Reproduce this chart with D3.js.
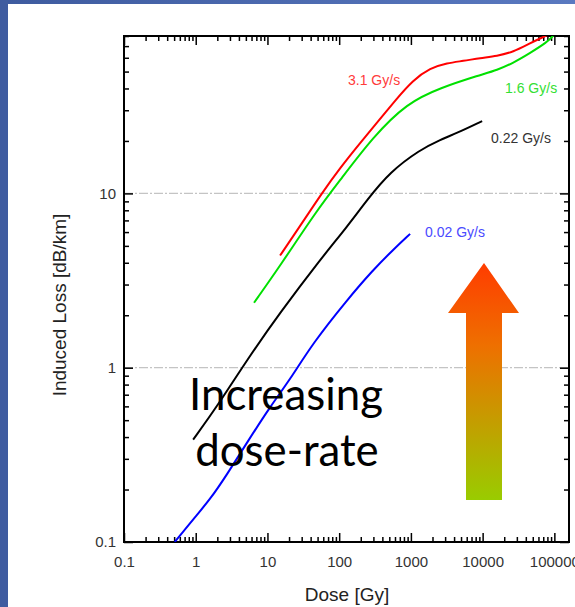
<!DOCTYPE html>
<html>
<head>
<meta charset="utf-8">
<script src="https://cdn.jsdelivr.net/npm/d3@7"></script>
<style>
  body { margin: 0; background: #fff; }
  svg { display: block; font-family: "Liberation Sans", Arial, sans-serif; }
</style>
</head>
<body>
<svg id="chart" width="575" height="607"></svg>
<script>
// curve readings, [dose Gy, induced loss dB/km]
const rate31 = [[15,4.4],[28.5,6.5],[58,10.1],[103,14],[196,19.5],[372,26.7],[600,34],
  [1070,44.7],[1855,52.4],[3200,56],[5350,57.5],[9230,59.8],[15900,61.4],[26600,64.7],
  [45900,72.8],[69800,78.9],[80000,81]];
const rate16 = [[6.5,2.36],[15,3.84],[49,8],[103,11.9],[297,21.1],[885,33],[2550,40.3],
  [9230,47.8],[15900,51],[26600,56],[45900,63.9],[79400,73.8],[96000,80],[105000,84]];
const rate022 = [[0.92,0.387],[1.98,0.598],[5.19,1.11],[15,2.07],[54,4.16],[129,6.43],
  [245,9.18],[513,13.3],[1340,17.8],[2550,20.3],[4400,22.2],[9840,26]];
const rate002 = [[0.51,0.1],[0.92,0.135],[1.58,0.175],[2.73,0.244],[5.19,0.372],[10.9,0.598],
  [20.6,0.854],[43.3,1.39],[129,2.45],[297,3.64],[565,4.75],[975,5.86]];

const seriesNames = ["3.1 Gy/s", "1.6 Gy/s", "0.22 Gy/s", "0.02 Gy/s"];
const xMajor = [0.1, 1, 10, 100, 1000, 10000, 100000];
const xMajorLabels = ["0.1", "1", "10", "100", "1000", "10000", "100000"];
const yMajor = [0.1, 1, 10];
const yMajorLabels = ["0.1", "1", "10"];
const gridValues = [1, 10];

const svg = d3.select("#chart");
const plotL = 124, plotR = 569, plotT = 36, plotB = 542;

// slide frame
const defs = svg.append("defs");
const bg = defs.append("linearGradient").attr("id", "edge").attr("x1", 0).attr("x2", 1);
bg.append("stop").attr("offset", 0).attr("stop-color", "#3e5b9f");
bg.append("stop").attr("offset", 1).attr("stop-color", "#5a79c0");
svg.append("rect").attr("x", 0).attr("y", 0).attr("width", 575).attr("height", 4).attr("fill", "url(#edge)");
svg.append("rect").attr("x", 0).attr("y", 0).attr("width", 8).attr("height", 607).attr("fill", "#3f5ca0");

const x = d3.scaleLog().domain([0.1, 160000]).range([plotL, plotR]);
const y = d3.scaleLog().domain([0.1, 80]).range([plotB, plotT]);

function minors(lo, hi) {
  const out = [];
  for (let p = lo; p < hi; p++) for (let k = 2; k <= 9; k++) out.push(k * Math.pow(10, p));
  return out;
}
const xMinor = minors(-1, 6).filter(v => v <= 160000);
const yMinor = minors(-1, 2).filter(v => v <= 80);

// grid lines
svg.append("g").selectAll("line").data(gridValues).join("line")
  .attr("x1", plotL).attr("x2", plotR)
  .attr("y1", d => y(d)).attr("y2", d => y(d))
  .attr("stroke", "#c4c4c4").attr("stroke-width", 1.2)
  .attr("stroke-dasharray", "9,2,2,2");

function axisG(axis, tx, ty) {
  const g = svg.append("g").attr("transform", `translate(${tx},${ty})`).call(axis);
  g.select(".domain").remove();
  g.selectAll(".tick line").attr("stroke", "#000").attr("stroke-width", 1.5);
  g.selectAll("text").attr("fill", "#333").style("font-size", "15px")
    .style("font-family", '"Liberation Sans", Arial, sans-serif');
  return g;
}

axisG(d3.axisBottom(x).tickValues(xMinor).tickSize(-5).tickFormat(""), 0, plotB);
axisG(d3.axisBottom(x).tickValues(xMajor).tickSize(-9).tickPadding(14)
  .tickFormat((d, i) => xMajorLabels[i]), 0, plotB);
axisG(d3.axisTop(x).tickValues(xMinor).tickSize(-5).tickFormat(""), 0, plotT);
axisG(d3.axisTop(x).tickValues(xMajor).tickSize(-9).tickFormat(""), 0, plotT);
axisG(d3.axisLeft(y).tickValues(yMinor).tickSize(-5).tickFormat(""), plotL, 0);
axisG(d3.axisLeft(y).tickValues(yMajor).tickSize(-9).tickPadding(8)
  .tickFormat((d, i) => yMajorLabels[i]), plotL, 0);
axisG(d3.axisRight(y).tickValues(yMinor).tickSize(-5).tickFormat(""), plotR, 0);
axisG(d3.axisRight(y).tickValues(yMajor).tickSize(-9).tickFormat(""), plotR, 0);

svg.append("rect").attr("x", plotL).attr("y", plotT)
  .attr("width", plotR - plotL).attr("height", plotB - plotT)
  .attr("fill", "none").attr("stroke", "#000").attr("stroke-width", 2);

// curves
defs.append("clipPath").attr("id", "plot").append("rect")
  .attr("x", plotL).attr("y", plotT).attr("width", plotR - plotL).attr("height", plotB - plotT);
const line = d3.line().x(d => x(d[0])).y(d => y(d[1])).curve(d3.curveBasis);
const curves = [
  { data: rate31, color: "#ff0000" },
  { data: rate16, color: "#00e000" },
  { data: rate022, color: "#000000" },
  { data: rate002, color: "#0000ff" }
];
svg.append("g").attr("clip-path", "url(#plot)")
  .selectAll("path").data(curves).join("path")
  .attr("d", d => line(d.data))
  .attr("fill", "none").attr("stroke", d => d.color).attr("stroke-width", 2);

// series labels
const labelPos = [[348, 85, "#ff3b3b"], [505, 93, "#33e033"], [491, 143, "#333"], [425, 237, "#4a4aff"]];
svg.append("g").selectAll("text").data(seriesNames).join("text")
  .attr("x", (d, i) => labelPos[i][0]).attr("y", (d, i) => labelPos[i][1])
  .attr("fill", (d, i) => labelPos[i][2]).style("font-size", "14px").text(d => d);

// axis titles
svg.append("text").attr("x", 347).attr("y", 601).attr("text-anchor", "middle")
  .attr("fill", "#222").style("font-size", "19px").text("Dose [Gy]");
svg.append("text").attr("transform", "translate(66,305) rotate(-90)").attr("text-anchor", "middle")
  .attr("fill", "#222").style("font-size", "19px").text("Induced Loss [dB/km]");

// annotation arrow
const grad = defs.append("linearGradient").attr("id", "arrowFill")
  .attr("x1", 0).attr("y1", 0).attr("x2", 0).attr("y2", 1);
grad.append("stop").attr("offset", 0).attr("stop-color", "#ff3c00");
grad.append("stop").attr("offset", 0.35).attr("stop-color", "#ee7000");
grad.append("stop").attr("offset", 1).attr("stop-color", "#99cc00");
const ax = 484, aTop = 263, aHead = 313, aBot = 500;
svg.append("path")
  .attr("d", `M${ax},${aTop} L${ax + 35},${aHead} L${ax + 18},${aHead} L${ax + 18},${aBot} ` +
             `L${ax - 18},${aBot} L${ax - 18},${aHead} L${ax - 36},${aHead} Z`)
  .attr("fill", "url(#arrowFill)");

// big annotation text
const big = svg.append("g").attr("fill", "#000")
  .style("font-family", "Lato, 'Open Sans', sans-serif");
const t1 = big.append("text").attr("x", 286).attr("y", 410).attr("text-anchor", "middle")
  .style("font-size", "44px").text("Increasing");
const fs = 44 * 194 / t1.node().getComputedTextLength();
t1.style("font-size", fs + "px");
big.append("text").attr("x", 287).attr("y", 466).attr("text-anchor", "middle")
  .style("font-size", fs + "px").text("dose-rate");
</script>
</body>
</html>
